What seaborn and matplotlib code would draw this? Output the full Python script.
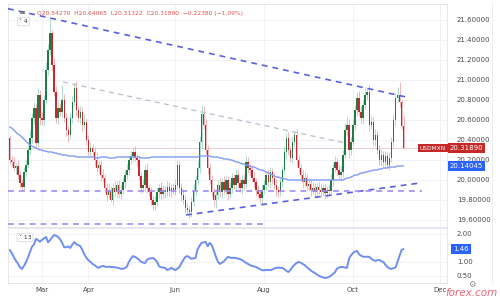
import numpy as np
import pandas as pd
import matplotlib
matplotlib.use("Agg")
import matplotlib.pyplot as plt
import matplotlib.transforms as mtransforms
import seaborn as sns

sns.set_theme(style="white")
plt.rcParams['font.family'] = ['DejaVu Sans']

# ---------------- data (daily USDMXN bars, Feb 5 - Nov 5) ----------------
first_open = 20.42
closes = [
    20.20, 20.18, 20.12, 20.14, 20.05, 19.97, 19.93, 20.08, 20.15, 20.30,
    20.42, 20.62, 20.72, 20.37, 20.85, 20.62, 20.60, 20.80, 21.10, 21.30,
    21.47, 21.15, 20.88, 20.62, 20.72, 20.68, 20.80, 20.62, 20.50, 20.45,
    20.62, 20.78, 20.92, 20.70, 20.62, 20.68, 20.55, 20.58, 20.40, 20.28,
    20.32, 20.28, 20.20, 20.12, 20.15, 20.05, 20.02, 19.92, 19.85, 19.90,
    19.80, 19.92, 19.88, 19.95, 19.86, 19.90, 19.98, 20.05, 20.10, 20.20,
    20.24, 20.28, 20.22, 20.20, 20.04, 19.92, 19.95, 20.10, 19.92, 19.88,
    19.80, 19.75, 19.78, 19.88, 19.92, 19.86, 19.90, 19.88, 19.93, 19.89,
    19.92, 19.90, 19.95, 20.15, 19.92, 19.85, 19.80, 19.72, 19.70, 19.68,
    19.78, 19.90, 20.00, 20.12, 20.38, 20.66, 20.55, 20.30, 20.12, 20.00,
    19.88, 19.80, 19.85, 19.95, 19.88, 19.98, 19.90, 20.00, 19.86, 19.92,
    20.02, 19.95, 20.05, 19.97, 19.92, 20.00, 19.96, 20.18, 20.12, 20.10,
    20.02, 19.98, 19.90, 19.86, 19.82, 19.90, 19.95, 20.05, 19.98, 20.08,
    20.02, 19.95, 19.90, 19.88, 19.98, 20.10, 20.28, 20.42, 20.30, 20.22,
    20.38, 20.45, 20.20, 20.12, 20.05, 19.98, 20.02, 19.94, 19.96, 19.90,
    19.92, 19.88, 19.93, 19.90, 19.88, 19.92, 19.87, 19.90, 19.89, 20.00,
    20.12, 20.18, 20.10, 20.05, 20.08, 20.25, 20.50, 20.55, 20.30, 20.38,
    20.55, 20.70, 20.82, 20.68, 20.62, 20.75, 20.85, 20.88, 20.55, 20.58,
    20.40, 20.45, 20.30, 20.20, 20.25, 20.18, 20.24, 20.15, 20.22, 20.38,
    20.60, 20.82, 20.85, 20.78, 20.5427, 20.3189,
]
# wick lengths above / below the body, in hundredths of a peso
up_wick = [
    3, 4, 5, 3, 6, 4, 3, 5, 6, 4,
    8, 5, 6, 4, 7, 5, 6, 5, 8, 6,
    16, 3, 7, 6, 8, 5, 15, 6, 5, 4,
    5, 6, 5, 7, 4, 6, 5, 8, 4, 5,
    6, 4, 5, 7, 4, 5, 6, 4, 5, 6,
    4, 5, 7, 4, 5, 6, 4, 5, 6, 4,
    5, 5, 6, 4, 5, 4, 6, 5, 7, 4,
    5, 4, 6, 5, 4, 6, 5, 4, 6, 5,
    4, 5, 6, 5, 4, 5, 6, 4, 5, 4,
    5, 6, 5, 7, 6, 9, 8, 6, 5, 4,
    5, 4, 6, 5, 7, 4, 6, 5, 4, 6,
    5, 4, 6, 5, 4, 5, 6, 7, 5, 4,
    5, 6, 4, 5, 4, 6, 5, 4, 6, 5,
    4, 5, 6, 4, 5, 4, 6, 5, 6, 4,
    5, 3, 6, 5, 4, 5, 6, 4, 5, 4,
    6, 5, 4, 5, 6, 4, 5, 4, 5, 6,
    5, 6, 4, 5, 6, 5, 7, 8, 6, 5,
    6, 5, 6, 7, 6, 5, 8, 4, 7, 6,
    5, 6, 4, 5, 6, 4, 5, 4, 6, 5,
    6, 5, 8, 13, 2, 9.8,
]
low_wick = [
    4, 5, 3, 6, 4, 5, 3, 4, 5, 3,
    4, 5, 6, 5, 4, 7, 5, 6, 4, 5,
    5, 6, 4, 5, 6, 4, 5, 4, 6, 7,
    4, 5, 3, 6, 4, 5, 6, 4, 5, 3,
    5, 4, 6, 4, 5, 6, 4, 5, 6, 4,
    2, 5, 4, 6, 4, 5, 4, 6, 4, 5,
    4, 5, 3, 6, 4, 5, 4, 6, 5, 4,
    5, 5, 5, 4, 6, 5, 4, 6, 4, 5,
    6, 4, 5, 4, 5, 6, 4, 5, 4, 6,
    5, 4, 6, 4, 5, 6, 4, 5, 6, 4,
    5, 6, 8, 4, 5, 6, 4, 5, 6, 4,
    5, 4, 6, 5, 4, 6, 5, 4, 5, 6,
    4, 5, 6, 4, 5, 6, 4, 5, 4, 6,
    5, 4, 6, 5, 4, 5, 4, 6, 5, 4,
    5, 4, 6, 5, 4, 6, 5, 4, 5, 6,
    4, 5, 6, 4, 5, 4, 6, 5, 4, 5,
    6, 4, 5, 4, 6, 5, 4, 6, 8, 5,
    4, 5, 6, 4, 5, 6, 4, 5, 6, 4,
    5, 6, 4, 5, 6, 4, 5, 3, 5, 4,
    5, 6, 4, 5, 3, 0.6,
]
# moving average (blue line on price pane)
ma_values = [
    20.53, 20.52, 20.50, 20.48, 20.46, 20.45, 20.43, 20.41, 20.39, 20.37,
    20.35, 20.34, 20.33, 20.32, 20.31, 20.30, 20.30, 20.29, 20.29, 20.28,
    20.28, 20.28, 20.27, 20.27, 20.26, 20.26, 20.25, 20.25, 20.25, 20.24,
    20.24, 20.24, 20.24, 20.23, 20.23, 20.23, 20.23, 20.23, 20.23, 20.23,
    20.23, 20.23, 20.22, 20.22, 20.22, 20.23, 20.23, 20.23, 20.23, 20.22,
    20.22, 20.22, 20.22, 20.23, 20.23, 20.23, 20.23, 20.23, 20.23, 20.23,
    20.23, 20.23, 20.23, 20.23, 20.23, 20.22, 20.22, 20.22, 20.22, 20.22,
    20.23, 20.23, 20.23, 20.23, 20.23, 20.23, 20.23, 20.23, 20.23, 20.23,
    20.23, 20.23, 20.23, 20.23, 20.23, 20.23, 20.23, 20.23, 20.23, 20.23,
    20.23, 20.23, 20.23, 20.23, 20.24, 20.24, 20.24, 20.24, 20.24, 20.24,
    20.23, 20.23, 20.23, 20.23, 20.22, 20.22, 20.21, 20.21, 20.21, 20.20,
    20.20, 20.19, 20.18, 20.18, 20.17, 20.16, 20.16, 20.15, 20.15, 20.14,
    20.13, 20.13, 20.12, 20.11, 20.10, 20.10, 20.09, 20.08, 20.07, 20.06,
    20.05, 20.04, 20.03, 20.03, 20.02, 20.02, 20.01, 20.01, 20.00, 20.00,
    20.00, 20.00, 20.00, 20.00, 20.00, 20.00, 20.00, 20.00, 20.00, 20.00,
    20.00, 20.00, 20.00, 20.00, 20.00, 20.00, 20.00, 20.00, 20.00, 20.00,
    20.00, 20.00, 20.00, 20.00, 20.00, 20.00, 20.01, 20.02, 20.02, 20.03,
    20.04, 20.05, 20.05, 20.06, 20.07, 20.07, 20.08, 20.08, 20.09, 20.09,
    20.10, 20.10, 20.10, 20.11, 20.11, 20.12, 20.12, 20.12, 20.13, 20.13,
    20.13, 20.13, 20.14, 20.14, 20.14, 20.14045,
]
# lower pane indicator (13)
ind_values = [
    1.43, 1.32, 1.18, 1.05, 0.95, 0.82, 0.75, 0.85, 0.98, 1.15,
    1.35, 1.54, 1.62, 1.82, 1.78, 1.72, 1.79, 1.84, 1.89, 1.70,
    1.78, 1.88, 1.96, 1.93, 1.89, 1.80, 1.68, 1.52, 1.53, 1.55,
    1.50, 1.62, 1.71, 1.63, 1.60, 1.56, 1.42, 1.26, 1.15, 1.06,
    1.00, 0.93, 0.89, 0.83, 0.79, 0.83, 0.86, 0.84, 0.82, 0.83,
    0.82, 0.82, 0.81, 0.80, 0.78, 0.76, 0.75, 0.78, 0.83, 1.00,
    1.12, 1.21, 1.18, 1.14, 1.08, 1.01, 0.98, 0.96, 1.08, 1.12,
    1.13, 1.14, 1.08, 1.00, 0.84, 0.81, 0.80, 0.79, 0.71, 0.74,
    0.79, 0.75, 0.71, 0.76, 0.82, 0.95, 1.08, 1.18, 1.21, 1.16,
    1.11, 1.13, 1.14, 1.45, 1.58, 1.68, 1.70, 1.71, 1.56, 1.68,
    1.60, 1.42, 1.20, 1.02, 0.93, 0.97, 1.02, 1.10, 1.18, 1.16,
    1.14, 1.15, 1.14, 1.12, 1.10, 1.07, 1.02, 0.97, 0.93, 0.89,
    0.86, 0.84, 0.82, 0.78, 0.74, 0.71, 0.70, 0.72, 0.71, 0.71,
    0.73, 0.77, 0.79, 0.80, 0.79, 0.79, 0.74, 0.68, 0.64, 0.72,
    0.82, 0.90, 0.96, 1.00, 0.98, 0.93, 0.89, 0.82, 0.76, 0.70,
    0.65, 0.61, 0.56, 0.51, 0.48, 0.45, 0.43, 0.44, 0.46, 0.51,
    0.57, 0.63, 0.76, 0.80, 0.82, 0.82, 0.80, 0.79, 1.12, 1.24,
    1.32, 1.37, 1.39, 1.27, 1.22, 1.19, 1.18, 1.19, 1.18, 1.12,
    1.06, 1.04, 1.06, 1.07, 1.03, 1.00, 0.90, 0.82, 0.77, 0.75,
    0.78, 0.80, 1.00, 1.22, 1.43, 1.46,
]
month_labels = ["Mar", "Apr", "Jun", "Aug", "Oct", "Dec"]
month_bars = [16, 39, 82, 126, 170, 213]
price_ticks = [19.6, 19.8, 20.0, 20.2, 20.4, 20.6, 20.8, 21.0, 21.2, 21.4, 21.6]
ind_ticks = [0.5, 1.0, 2.0]
ohlc_last = {"O": 20.54270, "H": 20.64065, "L": 20.31322, "C": 20.31890}
chg_last, pct_last = -0.22380, -1.09
ma_last, ind_last = 20.14045, 1.46
# drawn trend lines: (bar start, bar end), (price start, price end)
resistance = ([-0.84, 196.2], [21.713, 20.83])
grey_trend = ([26.4, 166.0], [20.98, 20.37])
rising_support = ([87.3, 203.1], [19.65, 19.97])
mid_level = ([-0.84, 204.0], [19.885, 19.885])
low_level = ([-0.84, 126.4], [19.56, 19.56])

n = len(closes)
assert len(up_wick) == n and len(low_wick) == n and len(ma_values) == n and len(ind_values) == n

opens = [first_open] + closes[:-1]
df = pd.DataFrame({"bar": np.arange(n), "open": opens, "close": closes,
                   "ma": ma_values, "ind": ind_values})
df["top"] = df[["open", "close"]].max(axis=1)
df["bot"] = df[["open", "close"]].min(axis=1)
df["high"] = df["top"] + np.array(up_wick) / 100.0
df["low"] = df["bot"] - np.array(low_wick) / 100.0
df["up"] = df["close"] >= df["open"]

# ---------------- figure ----------------
W, H = 500, 300
fig = plt.figure(figsize=(5, 3), dpi=100)
fig.patch.set_facecolor("white")
ax = fig.add_axes([8 / W, 1 - 227 / H, (447 - 8) / W, (227 - 4) / H])
ax2 = fig.add_axes([8 / W, 1 - 283 / H, (447 - 8) / W, (283 - 228) / H])

grid_c = "#eef0f6"
for a in (ax, ax2):
    a.set_facecolor("white")
    a.set_xlim(-0.84, 216.5)
    a.set_xticks(month_bars)
    a.grid(True, color=grid_c, lw=0.6)
    a.set_axisbelow(True)
    for s in a.spines.values():
        s.set_color("#e0e3eb")
        s.set_linewidth(0.6)
    a.yaxis.tick_right()
    a.tick_params(axis="both", length=0, labelsize=5, colors="#4a4a4a", pad=7)
    a.set_xlabel("")
    a.set_ylabel("")

ax.set_ylim(19.53, 21.76)
ax.set_yticks(price_ticks)
ax.set_yticklabels([f"{t:.5f}" for t in price_ticks])
ax.tick_params(axis="x", labelbottom=False)

# candles
wick_c = np.where(df["up"], "#9fd8c4", "#f2a9ac")
body_c = np.where(df["up"], "#1e7d45", "#c9262d")
ax.vlines(df["bar"], df["low"], df["high"], colors=wick_c, lw=0.6, zorder=2)
ax.bar(df["bar"], (df["top"] - df["bot"]).clip(lower=0.006), bottom=df["bot"],
       width=0.72, color=body_c, linewidth=0, zorder=3)

# last price line
ax.axhline(ohlc_last["C"], color="#e3c9c9", lw=0.6, zorder=1)

# moving average
sns.lineplot(data=df, x="bar", y="ma", ax=ax, color="#7f9cf2", lw=1.0, zorder=4)

# trend lines
ax.plot(*resistance, color="#5a5fe0", lw=1.2, ls=(0, (3.5, 3)), zorder=5)
ax.plot(*rising_support, color="#5a5fe0", lw=1.2, ls=(0, (3.5, 3)), zorder=5)
ax.plot(*mid_level, color="#a28af0", lw=1.2, ls=(0, (3.5, 3)), zorder=5)
ax.plot(*low_level, color="#a28af0", lw=1.2, ls=(0, (3.5, 3)), zorder=5)
ax.plot(*grey_trend, color="#b9bccd", lw=0.9, ls=(0, (4, 3.5)), zorder=5)
ax.set_xlabel("")
ax.set_ylabel("")

# lower indicator
sns.lineplot(data=df, x="bar", y="ind", ax=ax2, color="#6f8ff0", lw=1.4)
ax2.set_ylim(0.25, 2.21)
ax2.set_yticks(ind_ticks)
ax2.set_yticklabels([f"{t:.2f}" for t in ind_ticks])
ax2.set_xticklabels(month_labels)
ax2.tick_params(axis="x", pad=3)
ax2.set_xlabel("")
ax2.set_ylabel("")
for lab in ax2.get_yticklabels() + ax.get_yticklabels():
    lab.set_horizontalalignment("left")

# right-hand value boxes
tr_main = mtransforms.blended_transform_factory(fig.transFigure, ax.transData)
tr_low = mtransforms.blended_transform_factory(fig.transFigure, ax2.transData)
fig.text(450 / W, ohlc_last["C"], f"{ohlc_last['C']:.5f}", transform=tr_main,
         ha="left", va="center", fontsize=5, color="white",
         bbox=dict(boxstyle="square,pad=0.25", fc="#c62828", ec="none"))
fig.text(433 / W, ohlc_last["C"], "USDMXN", transform=tr_main,
         ha="center", va="center", fontsize=4.2, color="white",
         bbox=dict(boxstyle="square,pad=0.3", fc="#c62828", ec="none"))
fig.text(450 / W, ma_last, f"{ma_last:.5f}", transform=tr_main,
         ha="left", va="center", fontsize=5, color="white",
         bbox=dict(boxstyle="square,pad=0.25", fc="#2962ff", ec="none"))
fig.text(453 / W, ind_last, f"{ind_last:.2f}", transform=tr_low,
         ha="left", va="center", fontsize=5, color="white",
         bbox=dict(boxstyle="square,pad=0.3", fc="#2962ff", ec="none"))

# header / legend boxes
hdr = (f"O{ohlc_last['O']:.5f}  H{ohlc_last['H']:.5f}  L{ohlc_last['L']:.5f}  "
       f"C{ohlc_last['C']:.5f}  \u2212{abs(chg_last):.5f} (\u2212{abs(pct_last):.2f}%)")
fig.text(37 / W, 1 - 14 / H, hdr, fontsize=4.3, color="#d9534f", ha="left", va="center")
fig.text(22 / W, 1 - 13 / H, "\u2261", fontsize=6, color="#666666", ha="center", va="center")
fig.text(23.5 / W, 1 - 21.5 / H, "\u02c5 4", fontsize=4.3, color="#333333", ha="center", va="center",
         bbox=dict(boxstyle="round,pad=0.3,rounding_size=0.3", fc="white", ec="#d0d3db", lw=0.5))
fig.text(25 / W, 1 - 237.5 / H, "\u02c5 13", fontsize=4.3, color="#333333", ha="center", va="center",
         bbox=dict(boxstyle="round,pad=0.3,rounding_size=0.3", fc="white", ec="#d0d3db", lw=0.5))

# far right border of price scale
fig.add_artist(plt.Line2D([492 / W, 492 / W], [1 - 283 / H, 1 - 2 / H], transform=fig.transFigure,
                          color="#e8eaf0", lw=0.6))

# gear icon + watermark
fig.text(472 / W, 1 - 284 / H, "\u2699", fontsize=6, color="#888888", ha="center", va="center")
fig.text(498 / W, 1 - 293 / H, "forex.com", fontsize=7.5, color="#e8475f", alpha=0.85,
         style="italic", ha="right", va="center")

fig.savefig("out.png", dpi=100)
